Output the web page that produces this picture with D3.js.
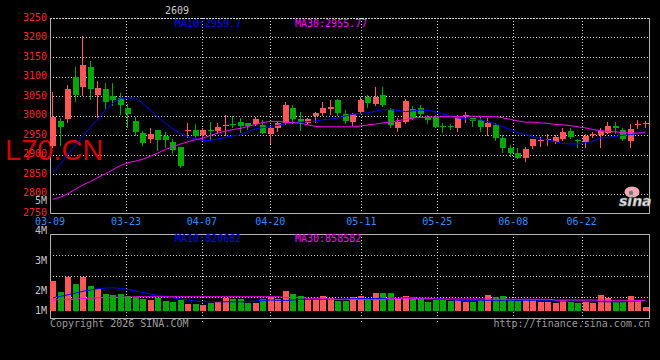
<!DOCTYPE html>
<html><head><meta charset="utf-8">
<script src="https://cdn.jsdelivr.net/npm/d3@7"></script>
<style>
html,body{margin:0;padding:0;background:#000;}
svg{display:block;}
text{font-family:"DejaVu Sans Mono",monospace;font-size:10px;}
</style></head><body>
<svg id="c" width="660" height="360"></svg>
<script>
// ---------- data ----------
const dates = ["03-09","03-10","03-11","03-12","03-13","03-16","03-17","03-18","03-19","03-20",
"03-23","03-24","03-25","03-26","03-27","03-30","03-31","04-01","04-02","04-03",
"04-07","04-08","04-09","04-10","04-13","04-14","04-15","04-16","04-17","04-20",
"04-21","04-22","04-23","04-24","04-27","04-28","04-29","04-30","05-06","05-07",
"05-08","05-11","05-12","05-13","05-14","05-15","05-18","05-19","05-20","05-21",
"05-22","05-25","05-26","05-27","05-28","05-29","06-01","06-02","06-03","06-04",
"06-05","06-08","06-09","06-10","06-11","06-12","06-15","06-16","06-17","06-18",
"06-22","06-23","06-24","06-25","06-26","06-29","06-30","07-01","07-02","07-03"];
const open  = [2922,2986,2991,3100,3074,3125,3053,3068,3051,3044,3020,2986,2954,2941,2962,2948,2933,2918,2959,2962,
2950,2963,2961,2975,2979,2984,2980,2978,2976,2953,2967,2981,3018,2990,2981,2999,3006,3017,3040,3004,
2984,3010,3048,3030,3053,3016,2967,2984,3016,3020,2997,2997,2972,2972,2967,2999,2993,2988,2970,2976,
2942,2917,2904,2891,2923,2936,2937,2933,2939,2961,2938,2933,2952,2950,2956,2973,2962,2935,2976,2979];
const high  = [3060,2994,3078,3125,3204,3140,3088,3083,3083,3057,3030,2995,2959,2967,2962,2957,2940,2920,2980,2977,
2968,2984,2980,3001,2999,2993,2982,2997,2988,2976,2984,3035,3027,3010,2994,3010,3035,3041,3042,3014,
3006,3048,3053,3074,3074,3018,2993,3042,3024,3026,3001,3001,2980,2978,3001,3010,2993,2997,2993,2982,
2950,2924,2916,2918,2941,2946,2952,2950,2967,2967,2941,2952,2958,2967,2984,2984,2967,2977,2988,2986];
const low   = [2918,2925,2984,3037,3053,3042,2996,3018,3027,3003,2971,2951,2924,2931,2911,2920,2903,2868,2946,2945,
2940,2941,2956,2950,2971,2958,2965,2975,2954,2930,2961,2978,2980,2963,2980,2984,3001,3004,3001,2980,
2976,3006,3021,3027,3024,2971,2961,2980,2990,2998,2982,2970,2958,2965,2961,2984,2972,2961,2950,2937,
2907,2896,2890,2884,2916,2922,2924,2930,2937,2942,2920,2918,2946,2918,2954,2954,2937,2920,2967,2970];
const close = [2997,2971,3067,3053,3130,3068,3071,3035,3040,3027,3003,2957,2929,2953,2937,2937,2912,2871,2962,2948,
2962,2961,2971,2976,2977,2974,2973,2990,2956,2969,2980,3027,2990,2983,2990,3007,3018,3022,3006,2987,
3004,3040,3031,3048,3026,2976,2984,3038,2993,3003,2988,2971,2971,2970,2993,3001,2987,2971,2980,2942,
2916,2903,2891,2913,2939,2938,2939,2946,2958,2944,2937,2947,2953,2959,2973,2967,2941,2965,2978,2980];
const ma10 = [2855,2876,2900,2924,2947,2971,2991,3014,3032,3044,3045,3045,3030,3014,2996,2980,2965,2954,2945,2940,
2936,2936,2940,2944,2948,2950,2959,2966,2969,2972,2975,2979,2983,2983,2984,2986,2989,2991,2994,2999,
3003,3005,3007,3011,3015,3015,3013,3010,3012,3014,3013,3009,3004,2999,2994,2991,2989,2989,2984,2978,
2971,2964,2956,2951,2946,2941,2937,2933,2928,2927,2927,2930,2934,2942,2944,2947,2949,2951,2954,2959.7];
const ma30 = [2785,2791,2800,2811,2822,2831,2841,2851,2861,2872,2879,2883,2888,2896,2904,2913,2920,2927,2933,2938,
2942,2949,2955,2960,2964,2967,2972,2977,2982,2985,2985,2983,2982,2980,2976,2972,2971,2971,2971,2971,
2971,2973,2976,2978,2981,2983,2987,2990,2993,2995,2996,2996,2997,2997,2997,2998,2998,2998,2997,2997,
2994,2990,2986,2983,2983,2981,2980,2977,2976,2974,2971,2968,2964,2961,2959,2958,2956,2955,2955,2955.77];
const volume = [2400000,1540000,2740000,2160000,2740000,2000000,1740000,1360000,1280000,1360000,
1200000,1100000,960000,880000,1020000,800000,740000,880000,560000,560000,
480000,660000,740000,1020000,940000,940000,660000,660000,940000,1100000,
940000,1600000,1360000,1200000,940000,940000,1200000,1020000,800000,800000,
1100000,1200000,880000,1460000,1460000,1460000,1020000,1200000,1100000,1020000,
740000,880000,880000,800000,880000,740000,740000,880000,1280000,1100000,
1200000,880000,800000,880000,880000,740000,740000,660000,880000,740000,
620000,740000,660000,1280000,1020000,740000,740000,1200000,880000,340000];
const volMa10 = [1060000,1180000,1300000,1440000,1580000,1680000,1780000,1840000,1860000,1820000,
1720000,1600000,1480000,1360000,1260000,1160000,1060000,960000,880000,800000,
740000,740000,740000,740000,740000,740000,740000,800000,840000,880000,
860000,840000,880000,940000,940000,940000,940000,940000,940000,940000,
1000000,1000000,1000000,1000000,1000000,1000000,1000000,1060000,1020000,1020000,
1020000,1020000,960000,900000,860000,820000,860000,860000,860000,860000,
860000,860000,860000,860000,860000,860000,860000,800000,800000,800000,
800000,800000,800000,740000,740000,740000,740000,780000,800000,820682];
const volMa30 = [880000,900000,920000,950000,1000000,1030000,1060000,1080000,1100000,1100000,
1100000,1140000,1140000,1140000,1140000,1140000,1140000,1140000,1140000,1140000,
1140000,1140000,1140000,1140000,1140000,1140000,1140000,1140000,1140000,1140000,
1140000,1080000,1080000,1080000,1020000,1020000,1020000,940000,940000,940000,
940000,910000,910000,910000,910000,1020000,1020000,1020000,1020000,1020000,
1020000,960000,960000,960000,960000,960000,960000,960000,960000,940000,
940000,940000,940000,940000,940000,940000,940000,880000,880000,880000,
880000,880000,880000,860000,860000,860000,860000,860000,860000,858582];
const dateTicks = ["03-09","03-23","04-07","04-20","05-11","05-25","06-08","06-22"];
const priceTicks = [3250,3200,3150,3100,3050,3000,2950,2900,2850,2800,2750];
const volTickLabels = ["5M","4M","3M","2M","1M"];
const maLabels = {ma10:"MA10:2959.7", ma30:"MA30:2955.77", vma10:"MA10:820682", vma30:"MA30:858582"};

// ---------- layout ----------
const L = 50, R = 650, RB = 649;
const mainTop = 18, mainBot = 213;
const volTop = 234, volBase = 311, volBot = 318;
const RED = "#ff5757", GREEN = "#00aa00";
const GRID = "#cfcfcf", FRAME = "#b0b0b0";

const svg = d3.select("#c");
svg.append("rect").attr("width",660).attr("height",360).attr("fill","#000");

const xb = d3.scaleBand().domain(dates).range([L,R]).paddingInner(0.2).paddingOuter(0.1).align(0);
const xp = d3.scalePoint().domain(dates).range([L,R]);
const y  = d3.scaleLinear().domain([2750,3250]).range([mainBot,mainTop]);
const yv = d3.scaleLinear().domain([0,6160000]).range([volBase,volTop]);
const volGrid = d3.scaleLinear().domain([0,4]).range([volBot,volTop]);
const volLabelY = d3.scaleOrdinal().domain(volTickLabels).range([204,234,264,294,314]);
const bw = xb.bandwidth();
const px = v => Math.round(v) + 0.5;

const candles = dates.map((d,i)=>({d,o:open[i],h:high[i],l:low[i],c:close[i],v:volume[i]}));

// ---------- grid ----------
const g = svg.append("g");
// horizontal main grid
g.selectAll(".hg").data(priceTicks.filter(v=>v>2750)).enter().append("line")
 .attr("x1",L).attr("x2",RB).attr("y1",d=>px(y(d))).attr("y2",d=>px(y(d)))
 .attr("stroke",GRID).attr("stroke-dasharray","1,2");
// vertical main grid
g.selectAll(".vg").data(dateTicks.slice(1)).enter().append("line")
 .attr("x1",d=>px(xp(d))).attr("x2",d=>px(xp(d))).attr("y1",mainTop).attr("y2",mainBot)
 .attr("stroke",GRID).attr("stroke-dasharray","1,2");
// volume horizontal grid
g.selectAll(".vhg").data([1,2,3,4]).enter().append("line")
 .attr("x1",L).attr("x2",RB).attr("y1",d=>px(volGrid(d))).attr("y2",d=>px(volGrid(d)))
 .attr("stroke",d=>d===4?FRAME:GRID).attr("stroke-dasharray",d=>d===4?null:"1,2");
g.selectAll(".vvg").data(dateTicks.slice(1)).enter().append("line")
 .attr("x1",d=>px(xp(d))).attr("x2",d=>px(xp(d))).attr("y1",volTop).attr("y2",volBot+5)
 .attr("stroke",GRID).attr("stroke-dasharray","1,2");

// frames
function frame(t,b,dottedTop){
  g.append("line").attr("x1",L).attr("x2",RB).attr("y1",t+0.5).attr("y2",t+0.5)
   .attr("stroke",dottedTop?GRID:FRAME).attr("stroke-dasharray",dottedTop?"2,1":null);
  g.append("line").attr("x1",L+0.5).attr("x2",L+0.5).attr("y1",t).attr("y2",b+1).attr("stroke",FRAME);
  g.append("line").attr("x1",RB+0.5).attr("x2",RB+0.5).attr("y1",t).attr("y2",b+1).attr("stroke",FRAME);
  g.append("line").attr("x1",L).attr("x2",RB+1).attr("y1",b+0.5).attr("y2",b+0.5).attr("stroke",FRAME);
}
frame(mainTop,mainBot,true);
frame(volTop,volBot,false);

// watermark
svg.append("text").attr("x",5).attr("y",160).text("L70.CN")
 .style("font-family","'Liberation Sans',Arial,sans-serif").style("font-size","29px")
 .attr("fill","#d80000");

// ---------- candles ----------
const cg = svg.append("g");
cg.selectAll(".wick").data(candles).enter().append("line")
 .attr("x1",d=>Math.round(xb(d.d))+2.5).attr("x2",d=>Math.round(xb(d.d))+2.5)
 .attr("y1",d=>Math.round(y(d.h))).attr("y2",d=>Math.round(y(d.l))+1)
 .attr("stroke",d=>d.c>=d.o?RED:GREEN);
cg.selectAll(".body").data(candles).enter().append("rect")
 .attr("x",d=>Math.round(xb(d.d))).attr("width",Math.round(bw))
 .attr("y",d=>Math.round(y(Math.max(d.o,d.c))))
 .attr("height",d=>Math.max(1,Math.round(y(Math.min(d.o,d.c)))-Math.round(y(Math.max(d.o,d.c)))))
 .attr("fill",d=>d.c>=d.o?RED:GREEN);

const lineMain = d3.line().x((d,i)=>xb(dates[i])+bw/2).y(d=>y(d));
svg.append("path").attr("d",lineMain(ma10)).attr("fill","none").attr("stroke","#0000ff").attr("stroke-width",1);
svg.append("path").attr("d",lineMain(ma30)).attr("fill","none").attr("stroke","#ff00ff").attr("stroke-width",1);

// ---------- volume ----------
svg.append("g").selectAll("rect").data(candles).enter().append("rect")
 .attr("x",d=>Math.round(xb(d.d))).attr("width",Math.round(bw))
 .attr("y",d=>Math.round(yv(d.v))).attr("height",d=>volBase-Math.round(yv(d.v)))
 .attr("fill",d=>d.c>=d.o?RED:GREEN);
const lineVol = d3.line().x((d,i)=>xb(dates[i])+bw/2).y(d=>yv(d));
svg.append("path").attr("d",lineVol(volMa10)).attr("fill","none").attr("stroke","#0000ff");
svg.append("path").attr("d",lineVol(volMa30)).attr("fill","none").attr("stroke","#ff00ff");

// ---------- texts ----------
svg.selectAll(".pl").data(priceTicks).enter().append("text")
 .attr("x",47).attr("y",d=>y(d)+2.5).attr("text-anchor","end").attr("fill","#ff2020").text(d=>d);
svg.selectAll(".vl").data(volTickLabels).enter().append("text")
 .attr("x",47).attr("y",d=>volLabelY(d)).attr("text-anchor","end").attr("fill","#c4c4c4").text(d=>d);
svg.selectAll(".dl").data(dateTicks).enter().append("text")
 .attr("x",d=>xp(d)).attr("y",225).attr("text-anchor","middle").attr("fill","#2e8fff").text(d=>d);

svg.append("text").attr("x",175).attr("y",26.5).attr("fill","#0000ff").text(maLabels.ma10);
svg.append("text").attr("x",295).attr("y",26.5).attr("fill","#ff00ff").text(maLabels.ma30);
svg.append("text").attr("x",175).attr("y",242).attr("fill","#0000ff").text(maLabels.vma10);
svg.append("text").attr("x",295).attr("y",242).attr("fill","#ff00ff").text(maLabels.vma30);

svg.append("text").attr("x",165).attr("y",13.5).attr("fill","#cccccc").text("2609");

svg.append("text").attr("x",50).attr("y",326.5).attr("fill","#9a9a9a").text("Copyright 2026 SINA.COM");
svg.append("text").attr("x",RB+1).attr("y",326.5).attr("text-anchor","end").attr("fill","#9a9a9a").text("http://finance.sina.com.cn");

// sina logo
const lg = svg.append("g");
lg.append("ellipse").attr("cx",632).attr("cy",192).attr("rx",7.5).attr("ry",5.5).attr("fill","#f3a9b6");
lg.append("circle").attr("cx",631).attr("cy",193).attr("r",2.2).attr("fill","#777");
lg.append("text").attr("x",619).attr("y",206).text("sina")
 .style("font-family","'DejaVu Sans',sans-serif").style("font-size","14px").style("font-weight","bold").style("font-style","italic")
 .attr("fill","#e6e6e6").attr("stroke","#8a8a8a").attr("stroke-width",0.6);
</script>
</body></html>
